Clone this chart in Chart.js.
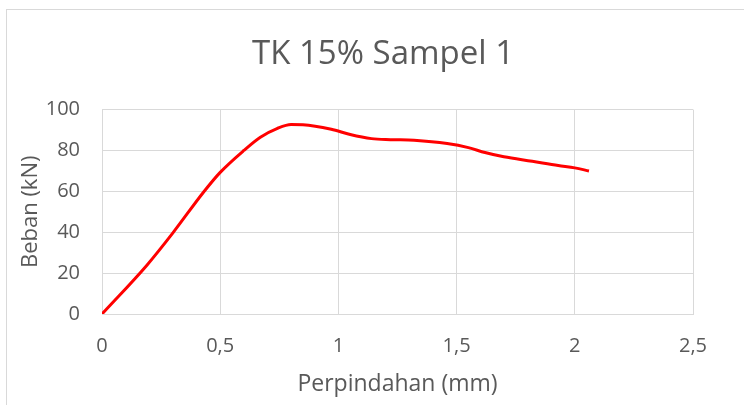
<!DOCTYPE html>
<html>
<head>
<meta charset="utf-8">
<script src="https://cdn.jsdelivr.net/npm/chart.js@4"></script>
<style>
  html, body { margin: 0; padding: 0; background: #fff; }
  #wrap { position: relative; width: 744px; height: 405px; overflow: hidden; }
  #frame { position: absolute; left: 6px; top: 9px; width: 800px; height: 500px;
           border-left: 1px solid #d9d9d9; border-top: 1px solid #d9d9d9; }
  canvas { position: absolute; left: 0; top: 0; }
</style>
</head>
<body>
<div id="wrap">
  <div id="frame"></div>
  <canvas id="chart" width="744" height="405"></canvas>
</div>
<script>
// displacement (mm) vs load (kN)
const perpindahan = [0, 0.19, 0.30, 0.43, 0.50, 0.60, 0.67, 0.74, 0.80, 0.85, 0.97, 1.05, 1.14, 1.22, 1.32, 1.46, 1.55, 1.62, 1.70, 1.82, 1.93, 2.00, 2.06];
const beban = [0, 23.9, 39.7, 59.7, 69.3, 80.0, 86.5, 90.7, 92.7, 92.6, 90.4, 87.8, 85.8, 85.3, 85.0, 83.4, 81.4, 79.0, 76.9, 74.7, 72.6, 71.5, 70.0];
const xTicks = [0, 0.5, 1, 1.5, 2, 2.5];
const yTicks = [0, 20, 40, 60, 80, 100];

const FONT = "'Open Sans', sans-serif";
const TEXT = '#595959';
const GRID = '#d9d9d9';

const points = perpindahan.map((x, i) => ({ x: x, y: beban[i] }));

new Chart(document.getElementById('chart'), {
  type: 'line',
  data: {
    datasets: [{
      data: points,
      borderColor: '#ff0000',
      borderWidth: 3,
      pointRadius: 0,
      fill: false,
      cubicInterpolationMode: 'monotone'
    }]
  },
  options: {
    responsive: false,
    animation: false,
    layout: { padding: { left: 22, right: 0, top: 0, bottom: 0 } },
    plugins: {
      legend: { display: false },
      tooltip: { enabled: false },
      title: {
        display: true,
        text: 'TK 15% Sampel 1',
        color: TEXT,
        font: { family: FONT, size: 33, weight: 'normal' },
        padding: { top: 35, bottom: 35 }
      }
    },
    scales: {
      x: {
        type: 'linear',
        min: 0, max: 2.5,
        afterBuildTicks: s => { s.ticks = xTicks.map(v => ({ value: v })); },
        afterFit: s => { s.height = 91; },
        grid: { color: GRID, drawTicks: false },
        border: { color: GRID },
        ticks: {
          color: TEXT, padding: 20,
          font: { family: FONT, size: 20 },
          callback: v => String(v).replace('.', ',')
        },
        title: {
          display: true, text: 'Perpindahan (mm)', color: TEXT,
          font: { family: FONT, size: 23 },
          padding: { top: 0, bottom: 7 }
        }
      },
      y: {
        min: 0, max: 100,
        afterBuildTicks: s => { s.ticks = yTicks.map(v => ({ value: v })); },
        afterFit: s => { s.width = 80; },
        grid: { color: GRID, drawTicks: false },
        border: { color: GRID },
        ticks: {
          color: TEXT, padding: 22,
          font: { family: FONT, size: 20 }
        },
        title: {
          display: true, text: 'Beban (kN)', color: TEXT,
          font: { family: FONT, size: 22 },
          padding: { top: -4, bottom: 0 }
        }
      },
      // empty right-hand axis, only reserves the space right of the plot
      yRight: {
        position: 'right',
        min: 0, max: 100,
        afterFit: s => { s.width = 51; },
        grid: { display: false },
        border: { display: false },
        ticks: { display: false }
      }
    }
  }
});
</script>
</body>
</html>
